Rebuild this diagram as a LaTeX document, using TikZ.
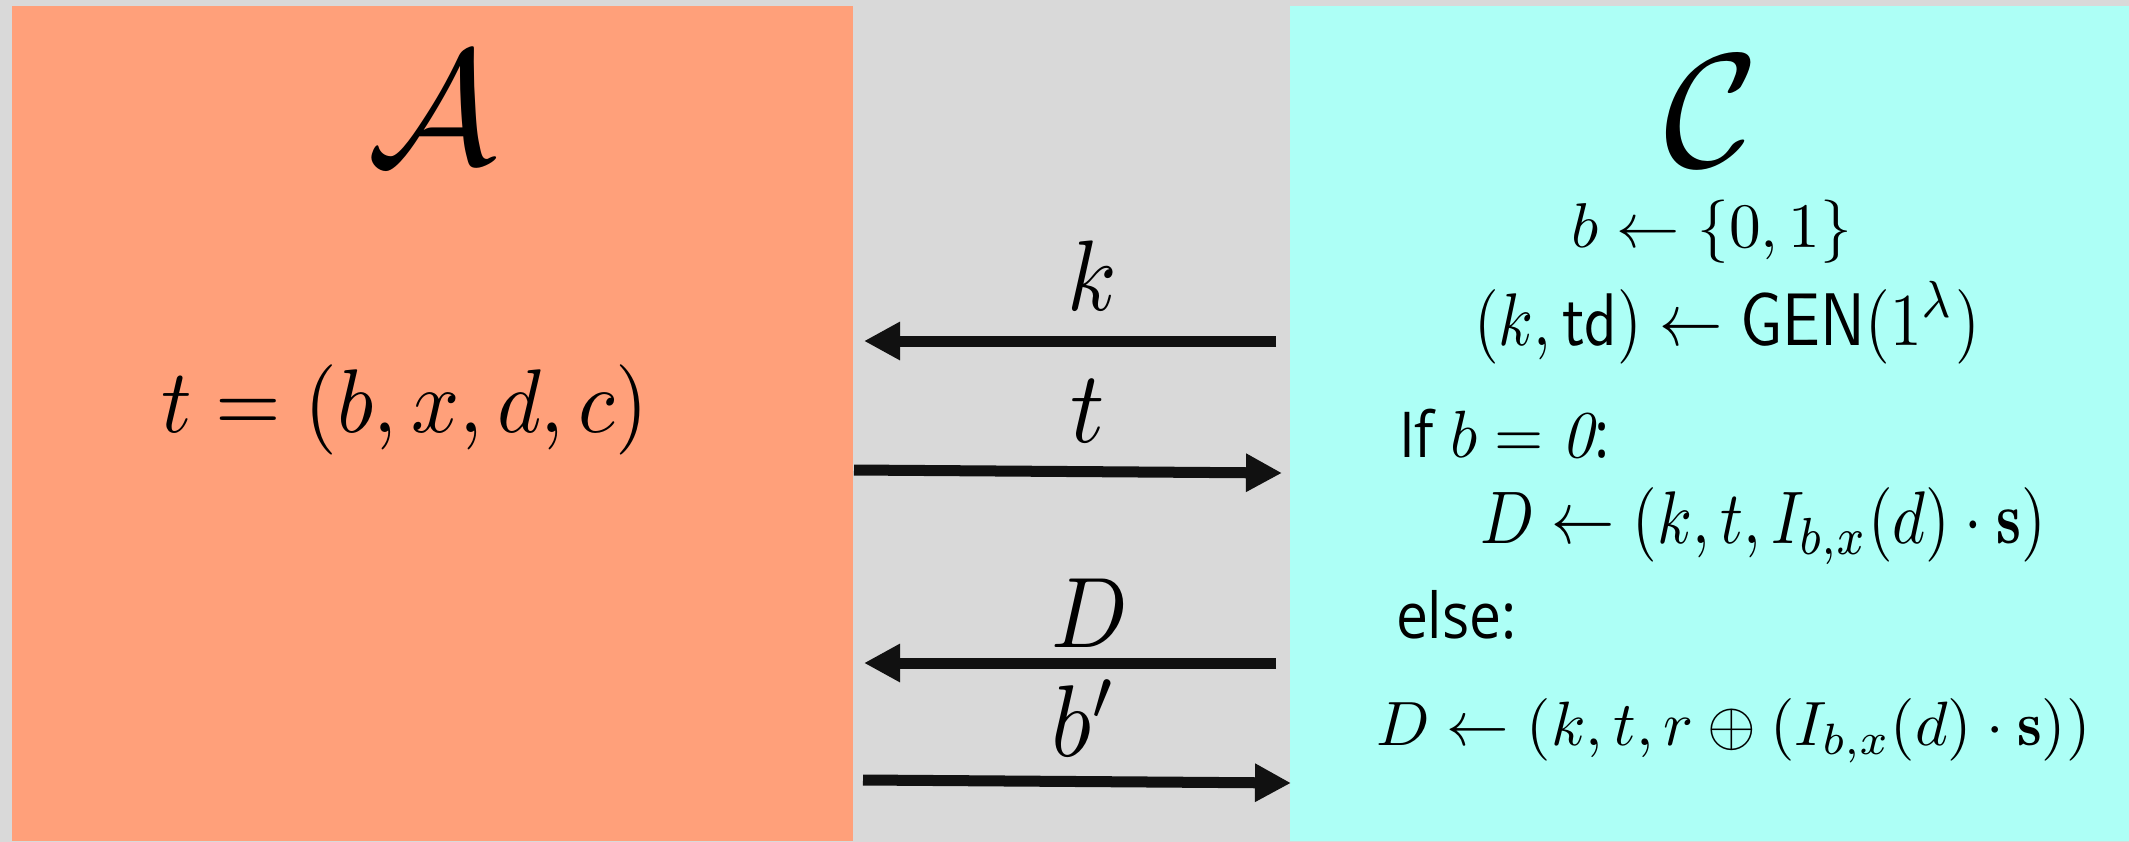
\documentclass[tikz,border=0pt]{standalone}
\usepackage{fontspec}
\usepackage{graphicx}
\newfontfamily\uisans{Open Sans}
\usetikzlibrary{arrows.meta}
\definecolor{bgray}{RGB}{217,217,217}
\definecolor{advorange}{RGB}{255,160,122}
\definecolor{chalcyan}{RGB}{173,255,246}
\definecolor{arrowblack}{RGB}{17,17,17}
\newcommand{\sanspiece}[1]{\scalebox{1.62}[1.8]{\uisans #1}}
\begin{document}
\begin{tikzpicture}[x=0.01cm,y=-0.01cm,
  party/.style={inner sep=0pt, outer sep=0pt, anchor=north west},
  txt/.style={inner sep=0pt, outer sep=0pt, anchor=base},
  ltxt/.style={inner sep=0pt, outer sep=0pt, anchor=base west},
  msg/.style={draw=arrowblack, line width=0.11cm, -{Triangle[length=0.36cm,width=0.36cm]}}]
\fill[bgray] (0,0) rectangle (2129,842);
\useasboundingbox (0,0) rectangle (2129,842);
% parties
\node[party, fill=advorange, minimum width=8.41cm, minimum height=8.35cm] (advbox) at (12,6) {};
\node[party, fill=chalcyan, minimum width=8.39cm, minimum height=8.35cm] (chalbox) at (1290,6) {};
\node[txt] (advname) at (432,163) {\scalebox{4.6}{$\mathcal{A}$}};
\node[txt] (chalname) at (1712,166) {\scalebox{4.6}{$\mathcal{C}$}};
\node[txt] (tdef) at (405,432) {\scalebox{2.4}[2.57]{$t=(b,x,d,c)$}};
% challenger steps
\node[txt] (bstep) at (1712,247) {\scalebox{1.8}{$b\leftarrow\{0,1\}$}};
\node[txt] (genstep) at (1727,345) {\scalebox{1.8}[2.12]{$(k,\mathsf{td})\leftarrow\mathsf{GEN}(1^{\lambda})$}};
\node[ltxt] (ifstep) at (1399,457) {\sanspiece{If}\hspace{0.16cm}\scalebox{1.8}[1.9]{$b=\mathit{0}$}\sanspiece{:}};
\node[ltxt] (realstep) at (1480,543) {\scalebox{1.8}[2.12]{$D\leftarrow(k,t,I_{b,x}(d)\cdot\mathbf{s})$}};
\node[ltxt] (elsestep) at (1396,638) {\sanspiece{else:}};
\node[ltxt] (randstep) at (1376,745) {\scalebox{1.78}{$D\leftarrow(k,t,r\oplus(I_{b,x}(d)\cdot\mathbf{s}))$}};
% messages
\coordinate (kfrom) at (1276,341);
\coordinate (kto) at (864,341);
\coordinate (tfrom) at (854,470);
\coordinate (tto) at (1282,473);
\coordinate (Dfrom) at (1276,663);
\coordinate (Dto) at (864,663);
\coordinate (bfrom) at (863,780);
\coordinate (bto) at (1291,783);
\draw[msg] (kfrom) -- (kto);
\draw[msg] (tfrom) -- (tto);
\draw[msg] (Dfrom) -- (Dto);
\draw[msg] (bfrom) -- (bto);
\node[txt] (klbl) at (1092,310) {\scalebox{2.55}[2.85]{$k$}};
\node[txt] (tlbl) at (1088,442) {\scalebox{2.7}[2.9]{$t$}};
\node[txt] (Dlbl) at (1090,647) {\scalebox{2.55}[2.85]{$D$}};
\node[txt] (blbl) at (1085,756) {\scalebox{2.65}[2.9]{$b'$}};
\end{tikzpicture}
\end{document}
